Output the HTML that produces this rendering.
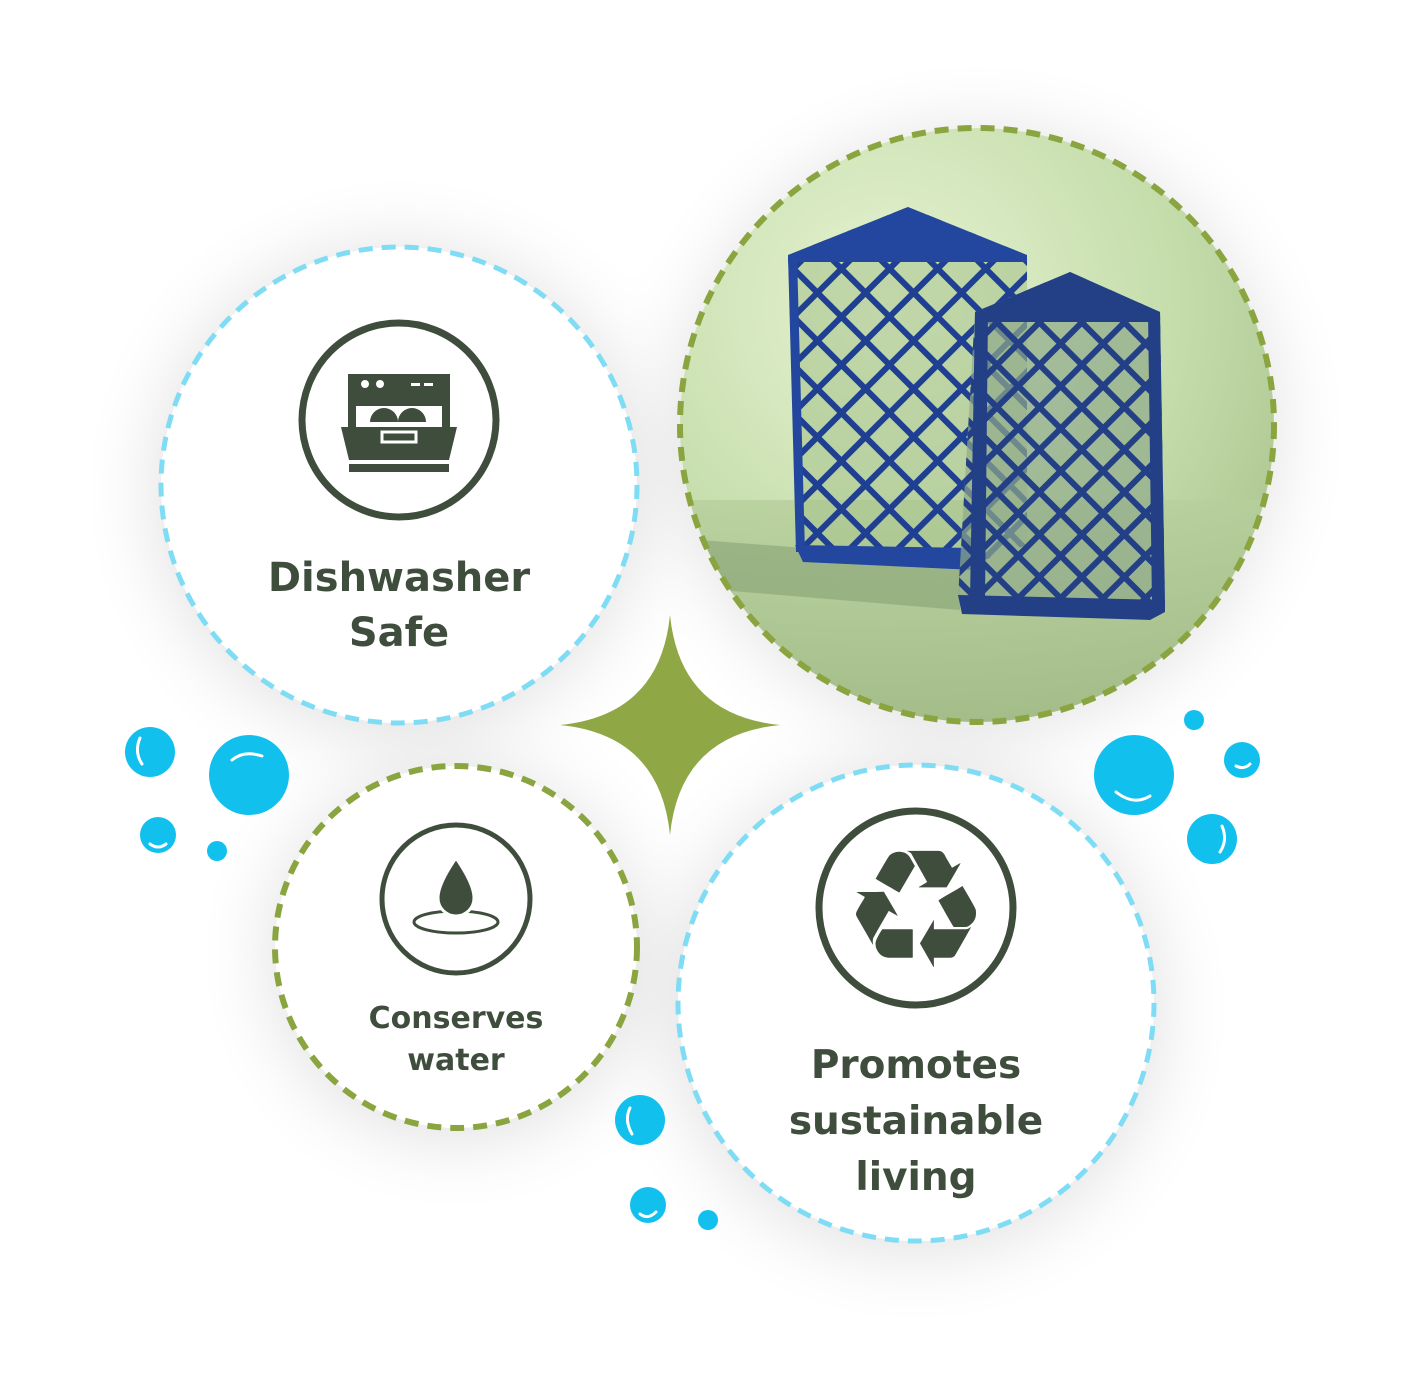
<!DOCTYPE html>
<html><head><meta charset="utf-8"><style>
html,body{margin:0;padding:0;background:#fff;}
svg{display:block;}
text{font-family:"DejaVu Sans","Liberation Sans",sans-serif;font-weight:bold;fill:#3f4d3d;}
</style></head><body>
<svg width="1404" height="1400" viewBox="0 0 1404 1400" xmlns="http://www.w3.org/2000/svg">
<defs>
<filter id="sh" x="-50%" y="-50%" width="200%" height="200%"><feGaussianBlur stdDeviation="40"/></filter>
<radialGradient id="bg" cx="0.35" cy="0.3" r="0.8">
<stop offset="0" stop-color="#e6f3d2"/><stop offset="0.6" stop-color="#c4dcaa"/><stop offset="1" stop-color="#a6c08a"/></radialGradient>
<linearGradient id="floor" x1="0" y1="0" x2="0" y2="1"><stop offset="0" stop-color="#b7cf9c"/><stop offset="1" stop-color="#9fb784"/></linearGradient>
<pattern id="lat" width="34" height="34" patternUnits="userSpaceOnUse" patternTransform="rotate(45)">
<rect x="0" y="0" width="34" height="6" fill="#1f3f92"/><rect x="0" y="0" width="6" height="34" fill="#1f3f92"/></pattern>
<pattern id="lat2" width="30" height="30" patternUnits="userSpaceOnUse" patternTransform="rotate(45)">
<rect x="0" y="0" width="30" height="6" fill="#233f86"/><rect x="0" y="0" width="6" height="30" fill="#233f86"/></pattern>
<clipPath id="pc"><circle cx="977" cy="425" r="297"/></clipPath>
</defs>
<g fill="#000" opacity="0.13" filter="url(#sh)">
<circle cx="399" cy="490" r="240"/><circle cx="977" cy="430" r="295"/><circle cx="456" cy="955" r="182"/><circle cx="916" cy="1010" r="240"/>
</g>
<circle cx="399" cy="485" r="238" fill="#fff" stroke="#7fdcf5" stroke-width="5" stroke-dasharray="14 9"/>
<circle cx="399" cy="420" r="97" fill="none" stroke="#3f4d3d" stroke-width="7"/>
<g fill="#3f4d3d">
<rect x="348" y="374" width="102" height="32" rx="6"/>
<rect x="348" y="374" width="8" height="54"/><rect x="442" y="374" width="8" height="54"/>
<path d="M370 422 a14 14 0 0 1 28 0z M398 422 a14 14 0 0 1 28 0z"/>
<path d="M341 427 H457 L449 460 H349 Z"/>
<rect x="349" y="464" width="100" height="8"/>
</g>
<g fill="#fff"><circle cx="365" cy="384" r="4"/><circle cx="380" cy="384" r="4"/><rect x="411" y="383" width="9" height="3"/><rect x="424" y="383" width="9" height="3"/></g>
<rect x="382" y="432" width="34" height="10" fill="none" stroke="#fff" stroke-width="3"/>
<text x="399" y="591" font-size="40" text-anchor="middle">Dishwasher</text>
<text x="399" y="646" font-size="40" text-anchor="middle">Safe</text>
<g clip-path="url(#pc)">
<rect x="670" y="120" width="620" height="620" fill="url(#bg)"/>
<rect x="670" y="500" width="620" height="240" fill="url(#floor)" opacity="0.8"/>
<path d="M700 540 L960 560 L960 610 L720 590Z" fill="#7f9a6d" opacity="0.5"/>
<polygon points="788,255 908,207 1027,255 1027,545 970,565 800,555" fill="#a9c48f" opacity="0.6"/>
<polygon points="788,255 908,207 1027,255 1027,545 970,565 800,555" fill="url(#lat)"/>
<polygon points="788,255 908,207 1027,255 1027,262 788,262" fill="#23479e"/>
<polygon points="788,255 797,255 805,552 796,552" fill="#23479e"/>
<polygon points="795,545 975,548 975,570 803,562" fill="#23479e"/>
<polygon points="975,312 1070,272 1160,312 1165,605 1150,618 965,612 958,598" fill="#8fa98a" opacity="0.7"/>
<polygon points="975,312 1070,272 1160,312 1165,605 1150,618 965,612 958,598" fill="url(#lat2)"/>
<polygon points="975,312 1070,272 1160,312 1160,322 975,322" fill="#233f86"/>
<polygon points="975,312 988,312 985,600 970,600" fill="#233f86"/>
<polygon points="1148,312 1160,312 1165,605 1152,605" fill="#233f86"/>
<polygon points="958,595 1165,600 1165,612 1150,620 962,614" fill="#233f86"/>
</g>
<circle cx="977" cy="425" r="297" fill="none" stroke="#8aa53f" stroke-width="6" stroke-dasharray="14 9"/>
<path d="M670 615 Q680 715 780 725 Q680 735 670 835 Q660 735 560 725 Q660 715 670 615Z" fill="#8fa845"/>
<circle cx="456" cy="947" r="181" fill="#fff" stroke="#8aa53f" stroke-width="6" stroke-dasharray="14 9"/>
<circle cx="456" cy="899" r="74" fill="none" stroke="#3f4d3d" stroke-width="5"/>
<ellipse cx="456" cy="922" rx="42" ry="11" fill="none" stroke="#3f4d3d" stroke-width="3"/>
<path d="M456 858 Q474 884 474 898 A18 18 0 0 1 438 898 Q438 884 456 858Z" fill="#3f4d3d" stroke="#fff" stroke-width="3"/>
<text x="456" y="1028" font-size="30" text-anchor="middle">Conserves</text>
<text x="456" y="1070" font-size="30" text-anchor="middle">water</text>
<circle cx="916" cy="1003" r="238" fill="#fff" stroke="#7fdcf5" stroke-width="5" stroke-dasharray="14 9"/>
<circle cx="916" cy="908" r="97" fill="none" stroke="#3f4d3d" stroke-width="7"/>
<text x="916" y="967" font-size="165" text-anchor="middle" style="font-weight:normal">♻</text>
<text x="916" y="1078" font-size="39" text-anchor="middle">Promotes</text>
<text x="916" y="1134" font-size="39" text-anchor="middle">sustainable</text>
<text x="916" y="1190" font-size="39" text-anchor="middle">living</text>
<g fill="#12c0ee">
<circle cx="150" cy="752" r="25"/><circle cx="249" cy="775" r="40"/><circle cx="158" cy="835" r="18"/><circle cx="217" cy="851" r="10"/>
<circle cx="1134" cy="775" r="40"/><circle cx="1194" cy="720" r="10"/><circle cx="1242" cy="760" r="18"/><circle cx="1212" cy="839" r="25"/>
<circle cx="640" cy="1120" r="25"/><circle cx="648" cy="1205" r="18"/><circle cx="708" cy="1220" r="10"/>
</g>
<g fill="none" stroke="#fff" stroke-width="3" stroke-linecap="round">
<path d="M140 738 Q134 752 142 764"/><path d="M232 760 Q244 750 262 756"/><path d="M150 844 Q158 850 166 844"/>
<path d="M1116 792 Q1134 806 1150 796"/><path d="M1236 766 Q1244 770 1250 764"/><path d="M1222 826 Q1228 840 1220 852"/>
<path d="M630 1108 Q624 1120 632 1134"/><path d="M640 1214 Q648 1220 656 1212"/>
</g>
</svg>
</body></html>
